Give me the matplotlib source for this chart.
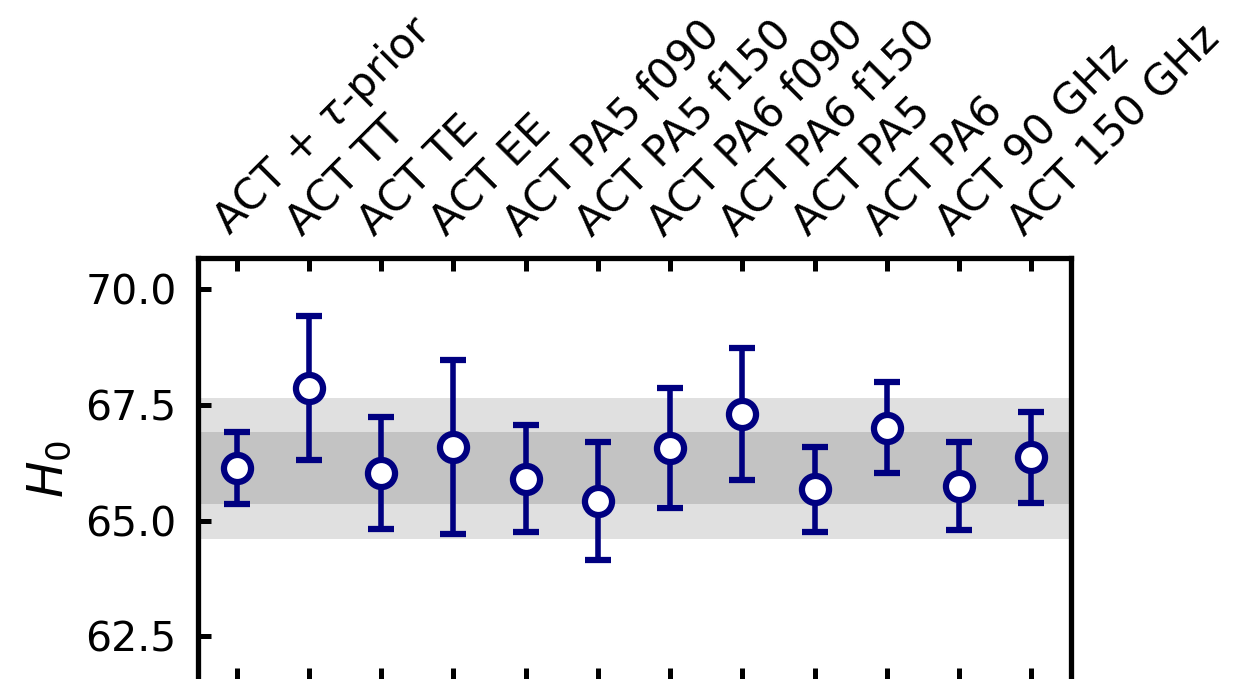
import matplotlib
matplotlib.use("Agg")
import matplotlib.pyplot as plt
import numpy as np

labels = ["ACT + $\\tau$-prior", "ACT TT", "ACT TE", "ACT EE",
          "ACT PA5 f090", "ACT PA5 f150", "ACT PA6 f090", "ACT PA6 f150",
          "ACT PA5", "ACT PA6", "ACT 90 GHz", "ACT 150 GHz"]
h0 = [66.13, 67.87, 66.03, 66.60, 65.91, 65.42, 66.57, 67.31, 65.68, 67.01, 65.75, 66.37]
h0_err = [0.78, 1.55, 1.22, 1.88, 1.15, 1.28, 1.30, 1.43, 0.92, 0.99, 0.95, 0.99]
band_center = 66.13
band_1sig = 0.78
band_2sig = 1.52

plt.rcParams['font.family'] = ['DejaVu Sans']
plt.rcParams['mathtext.fontset'] = 'dejavusans'
FS = 30.5

fig = plt.figure(figsize=(12.42, 6.79), dpi=100)
ax = fig.add_axes([197.5/1242, -0.003, (1071-197.5)/1242, 0.623])

x = np.arange(len(h0))
ax.axhspan(band_center - band_2sig, band_center + band_2sig, color='#e0e0e0', lw=0, zorder=0)
ax.axhspan(band_center - band_1sig, band_center + band_1sig, color='#c3c3c3', lw=0, zorder=0.5)

ax.errorbar(x, h0, yerr=h0_err, fmt='o', color='#000080', ecolor='#000080',
            elinewidth=4.0, capsize=9.6, capthick=4.0,
            markersize=19.5, markerfacecolor='white', markeredgecolor='#000080',
            markeredgewidth=4.5, zorder=3)

ax.set_xlim(-0.54, 11.55)
ax.set_ylim(61.53, 70.68)
ax.set_yticks([62.5, 65.0, 67.5, 70.0])
ax.set_yticklabels(["62.5", "65.0", "67.5", "70.0"])
ax.set_xticks(x)
ax.set_xticklabels(labels, rotation=45, ha='left', va='bottom', rotation_mode='anchor')

ax.tick_params(axis='both', which='major', direction='in', length=9.4, width=3.6)
ax.tick_params(axis='x', top=True, bottom=True, labeltop=True, labelbottom=False,
               labelsize=FS, pad=10)
ax.tick_params(axis='y', left=True, right=False, labelsize=29.5, pad=15)
for s in ax.spines.values():
    s.set_linewidth(3.8)

ax.set_ylabel("$H_0$", fontsize=35, labelpad=9)

fig.savefig("out.png", dpi=100)
